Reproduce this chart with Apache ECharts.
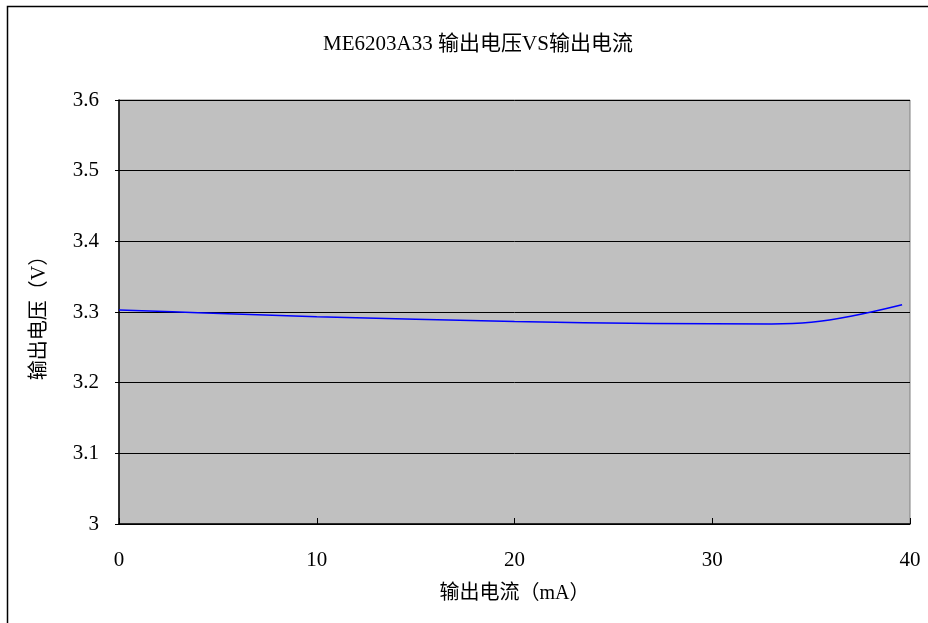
<!DOCTYPE html>
<html>
<head>
<meta charset="utf-8">
<script src="https://cdn.jsdelivr.net/npm/echarts@6/dist/echarts.min.js"></script>
<style>
html,body{margin:0;padding:0;background:#fff;}
#main{width:928px;height:623px;}
</style>
</head>
<body>
<div id="main"></div>
<script>
var titleText = 'ME6203A33 输出电压VS输出电流';
var xName = '输出电流（mA）';
var yName = '输出电压（V）';
var currentMA = [0, 4, 10, 20, 27, 33, 35, 37, 39.6];
var voltageV = [3.303, 3.299, 3.2933, 3.2865, 3.2838, 3.2831, 3.2855, 3.294, 3.3103];

var FONT = '"Liberation Serif", "Noto Sans CJK SC", serif';
var chart = echarts.init(document.getElementById('main'));
var pts = currentMA.map(function (x, i) { return [x, voltageV[i]]; });
chart.setOption({
  animation: false,
  backgroundColor: '#fff',
  title: {
    text: titleText, left: 473, top: 29, textAlign: 'center',
    textStyle: { fontFamily: FONT, fontSize: 21, fontWeight: 'normal', color: '#000' }
  },
  graphic: [{
    type: 'rect', shape: { x: 7.5, y: 6.5, width: 940, height: 640 },
    style: { fill: null, stroke: '#000', lineWidth: 1.5 }, silent: true, z: 0
  }, {
    type: 'text', rotation: Math.PI / 2, z: 10,
    style: { text: yName, fontFamily: FONT, fontSize: 20, fill: '#000', textAlign: 'center', textVerticalAlign: 'middle' },
    x: 40, y: 313
  }],
  grid: {
    left: 119, top: 100, width: 791, height: 424,
    show: true, backgroundColor: '#c0c0c0', borderColor: '#808080', borderWidth: 1
  },
  xAxis: {
    type: 'value', min: 0, max: 40, interval: 10,
    name: xName, nameLocation: 'middle', nameGap: 60,
    nameTextStyle: { fontFamily: FONT, fontSize: 20, color: '#000' },
    axisLine: { show: true, onZero: false, lineStyle: { color: '#000', width: 1.5 } },
    axisTick: { show: true, inside: true, length: 6, lineStyle: { color: '#000' } },
    axisLabel: { fontFamily: FONT, fontSize: 21, color: '#000', margin: 26 },
    splitLine: { show: false }
  },
  yAxis: {
    type: 'value', min: 3.0, max: 3.6, interval: 0.1,
    axisLine: { show: true, lineStyle: { color: '#000', width: 1.5 } },
    axisTick: { show: true, length: 4, lineStyle: { color: '#000' } },
    axisLabel: {
      fontFamily: FONT, fontSize: 21, color: '#000', margin: 20,
      formatter: function (v) { return Math.abs(v - 3) < 1e-9 ? '3' : v.toFixed(1); }
    },
    splitLine: { show: true, lineStyle: { color: '#000', width: 1 } }
  },
  series: [{
    type: 'line', data: pts, smooth: 0.4, showSymbol: false,
    lineStyle: { color: '#0000ff', width: 1.5 }, z: 5
  }]
});
</script>
</body>
</html>
